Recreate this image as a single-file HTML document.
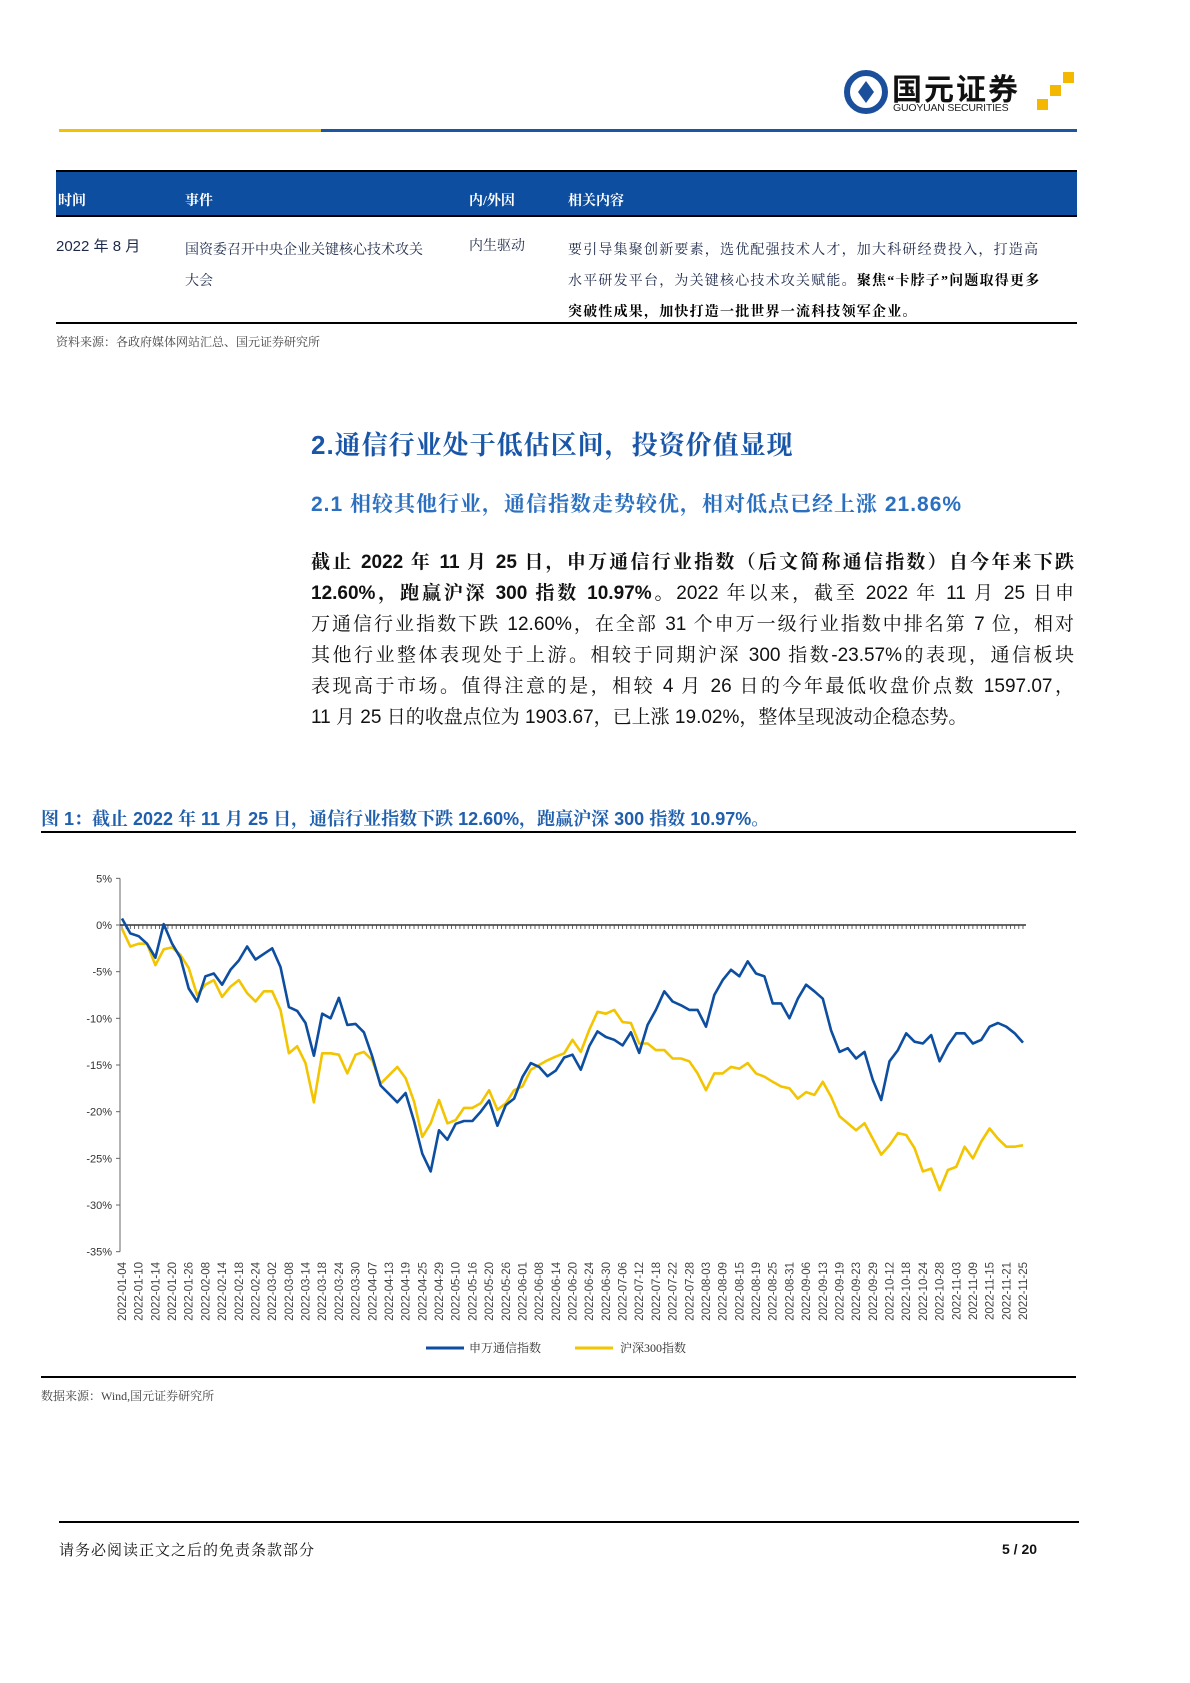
<!DOCTYPE html>
<html><head><meta charset="utf-8">
<style>
body{margin:0;width:1190px;height:1683px;background:#fff;position:relative;font-family:"Liberation Serif","Noto Serif CJK SC",serif;color:#111;overflow:hidden}
.a{position:absolute;white-space:nowrap}
.s{font-family:"Liberation Sans","Noto Sans CJK SC",sans-serif}
.tb{font-size:14px;color:#1e2a4a}
.pl{position:absolute;left:311px;width:763px;font-family:"Liberation Sans","Noto Serif CJK SC",serif;font-size:19px;white-space:nowrap;text-align:justify;text-align-last:justify;color:#111}
</style></head><body>
<div class="a" style="left:843px;top:68px;width:240px;height:48px">
 <svg width="240" height="48"><circle cx="23" cy="24" r="19" fill="none" stroke="#1b4f9c" stroke-width="6"/><path d="M23 13 L31 24 L23 35 L15 24Z" fill="#1b4f9c"/><rect x="220" y="4" width="11" height="11" fill="#f5b800"/><rect x="207" y="17" width="11" height="11" fill="#f5b800"/><rect x="194" y="31" width="11" height="11" fill="#f5b800"/></svg>
 <div class="a s" style="left:49px;top:-3px;font-size:30px;font-weight:bold;color:#111;letter-spacing:2px">国元证券</div>
 <div class="a s" style="left:50px;top:34px;font-size:10.5px;color:#222;letter-spacing:-0.2px">GUOYUAN SECURITIES</div>
</div>
<div class="a" style="left:59px;top:129px;width:262px;height:3px;background:#f2c200"></div>
<div class="a" style="left:321px;top:129px;width:756px;height:3px;background:#1b56a3"></div>

<div class="a" style="left:56px;top:170px;width:1021px;height:2px;background:#000"></div>
<div class="a" style="left:56px;top:172px;width:1021px;height:43px;background:#0d4ea0;border-bottom:2px solid #000"></div>
<div class="a tb" style="left:58px;top:190px;color:#fff;font-weight:bold">时间</div>
<div class="a tb" style="left:185px;top:190px;color:#fff;font-weight:bold">事件</div>
<div class="a tb" style="left:469px;top:190px;color:#fff;font-weight:bold">内/外因</div>
<div class="a tb" style="left:568px;top:190px;color:#fff;font-weight:bold">相关内容</div>
<div class="a tb s" style="left:56px;top:235px;font-size:15px">2022 年 8 月</div>
<div class="a tb" style="left:185px;top:235px;line-height:31px">国资委召开中央企业关键核心技术攻关<br>大会</div>
<div class="a tb" style="left:469px;top:235px">内生驱动</div>
<div class="a tb" style="left:568px;top:235px;line-height:31px;letter-spacing:1.2px">要引导集聚创新要素，选优配强技术人才，加大科研经费投入，打造高<br>水平研发平台，为关键核心技术攻关赋能。<b style="color:#000">聚焦“卡脖子”问题取得更多</b><br><b style="color:#000">突破性成果，加快打造一批世界一流科技领军企业。</b></div>
<div class="a" style="left:56px;top:322px;width:1021px;height:2px;background:#000"></div>
<div class="a" style="left:56px;top:333px;font-size:12px;color:#444">资料来源：各政府媒体网站汇总、国元证券研究所</div>

<div class="a" style="left:311px;top:425px;font-size:26px;font-weight:bold;color:#1a56a8;font-family:'Liberation Sans','Noto Serif CJK SC',serif;letter-spacing:1px">2.通信行业处于低估区间，投资价值显现</div>
<div class="a" style="left:311px;top:488px;font-size:21px;font-weight:bold;color:#2a6fc0;font-family:'Liberation Sans','Noto Serif CJK SC',serif;letter-spacing:1px">2.1 相较其他行业，通信指数走势较优，相对低点已经上涨 21.86%</div>
<div>
<div class="pl" style="top:547px;font-weight:bold">截止 2022 年 11 月 25 日，申万通信行业指数（后文简称通信指数）自今年来下跌</div>
<div class="pl" style="top:578px"><b>12.60%，跑赢沪深 300 指数 10.97%。</b>2022 年以来，截至 2022 年 11 月 25 日申</div>
<div class="pl" style="top:609px">万通信行业指数下跌 12.60%，在全部 31 个申万一级行业指数中排名第 7 位，相对</div>
<div class="pl" style="top:640px">其他行业整体表现处于上游。相较于同期沪深 300 指数-23.57%的表现，通信板块</div>
<div class="pl" style="top:671px">表现高于市场。值得注意的是，相较 4 月 26 日的今年最低收盘价点数 1597.07，</div>
<div class="pl" style="top:702px;text-align-last:left;width:auto">11 月 25 日的收盘点位为 1903.67，已上涨 19.02%，整体呈现波动企稳态势。</div>
</div>

<div class="a" style="left:41px;top:805px;font-size:18px;font-weight:bold;color:#1f5fad;font-family:'Liberation Sans','Noto Serif CJK SC',serif">图 1：截止 2022 年 11 月 25 日，通信行业指数下跌 12.60%，跑赢沪深 300 指数 10.97%。</div>
<div class="a" style="left:41px;top:831px;width:1035px;height:2px;background:#000"></div>

<svg class="a" id="chart" style="left:0;top:860px" width="1190" height="520"></svg>

<div class="a" style="left:41px;top:1376px;width:1035px;height:2px;background:#000"></div>
<div class="a" style="left:41px;top:1387px;font-size:12px;color:#444">数据来源：Wind,国元证券研究所</div>

<div class="a" style="left:59px;top:1521px;width:1020px;height:2px;background:#000"></div>
<div class="a" style="left:59px;top:1539px;font-size:15px;letter-spacing:1px">请务必阅读正文之后的免责条款部分</div>
<div class="a s" style="left:1002px;top:1541px;font-size:14px;font-weight:bold">5 / 20</div>

<script>
const dates=["2022-01-04","2022-01-10","2022-01-14","2022-01-20","2022-01-26","2022-02-08","2022-02-14","2022-02-18","2022-02-24","2022-03-02","2022-03-08","2022-03-14","2022-03-18","2022-03-24","2022-03-30","2022-04-07","2022-04-13","2022-04-19","2022-04-25","2022-04-29","2022-05-10","2022-05-16","2022-05-20","2022-05-26","2022-06-01","2022-06-08","2022-06-14","2022-06-20","2022-06-24","2022-06-30","2022-07-06","2022-07-12","2022-07-18","2022-07-22","2022-07-28","2022-08-03","2022-08-09","2022-08-15","2022-08-19","2022-08-25","2022-08-31","2022-09-06","2022-09-13","2022-09-19","2022-09-23","2022-09-29","2022-10-12","2022-10-18","2022-10-24","2022-10-28","2022-11-03","2022-11-09","2022-11-15","2022-11-21","2022-11-25"];
const yTicks=[5,0,-5,-10,-15,-20,-25,-30,-35];
const telecom=[0.7,-0.9,-1.2,-2.0,-3.5,0.1,-2.0,-3.5,-6.8,-8.2,-5.5,-5.2,-6.4,-4.8,-3.8,-2.3,-3.7,-3.1,-2.5,-4.5,-8.8,-9.2,-10.5,-14.0,-9.5,-10.0,-7.8,-10.7,-10.6,-11.5,-14.1,-17.2,-18.1,-19.0,-18.0,-21.0,-24.5,-26.4,-22.0,-23.0,-21.3,-21.0,-21.0,-20.0,-18.8,-21.5,-19.3,-18.6,-16.3,-14.8,-15.2,-16.2,-15.6,-14.2,-13.9,-15.5,-13.0,-11.4,-12.0,-12.3,-12.9,-11.5,-13.7,-10.7,-9.1,-7.1,-8.2,-8.6,-9.1,-9.1,-10.9,-7.5,-5.9,-4.8,-5.5,-3.9,-5.2,-5.5,-8.4,-8.4,-10.0,-7.9,-6.4,-7.1,-7.9,-11.3,-13.6,-13.2,-14.3,-13.6,-16.6,-18.75,-14.6,-13.4,-11.6,-12.5,-12.7,-11.8,-14.6,-12.9,-11.6,-11.6,-12.7,-12.3,-10.9,-10.5,-10.9,-11.6,-12.6];
const hs300=[-0.4,-2.3,-2.0,-2.0,-4.3,-2.6,-2.4,-3.2,-4.6,-7.5,-6.4,-5.9,-7.7,-6.6,-5.9,-7.3,-8.2,-7.1,-7.1,-9.1,-13.75,-13.0,-14.8,-19.0,-13.75,-13.75,-13.9,-15.9,-13.9,-13.6,-14.5,-17.0,-16.1,-15.2,-16.4,-18.9,-22.7,-21.25,-18.75,-21.25,-20.9,-19.6,-19.6,-19.1,-17.7,-19.8,-19.1,-17.7,-17.3,-15.5,-15.0,-14.5,-14.1,-13.75,-12.3,-13.6,-11.25,-9.3,-9.5,-9.1,-10.4,-10.5,-12.7,-12.7,-13.4,-13.4,-14.3,-14.3,-14.6,-15.9,-17.7,-15.9,-15.9,-15.2,-15.4,-14.8,-15.9,-16.25,-16.8,-17.3,-17.5,-18.6,-17.9,-18.2,-16.8,-18.4,-20.5,-21.25,-22.0,-21.25,-22.9,-24.6,-23.6,-22.3,-22.5,-23.9,-26.4,-26.1,-28.4,-26.25,-25.9,-23.75,-25.0,-23.2,-21.8,-22.9,-23.75,-23.75,-23.6];
const series=[{name:"申万通信指数",vals:telecom,color:"#0d4ea0"},{name:"沪深300指数",vals:hs300,color:"#f2c500"}];

const svg=document.getElementById('chart');
const NS="http://www.w3.org/2000/svg";
const OY=860, x0=122, x1=1023, axX=120;
function yS(v){return 925-OY-(v*46.67/5);}
function xS(i){return x0+i*(x1-x0)/(dates.length-1);}
function el(t,a){const e=document.createElementNS(NS,t);for(const k in a)e.setAttribute(k,a[k]);svg.appendChild(e);return e;}
const ya=el('line',{x1:axX,y1:yS(5),x2:axX,y2:yS(-35),stroke:'#666','stroke-width':1});


yTicks.forEach(t=>{
 const tk=el('line',{x1:axX-4,y1:yS(t),x2:axX,y2:yS(t),stroke:'#666'});
 
 
 const tx=el('text',{x:axX-8,y:yS(t)+4,'text-anchor':'end','font-size':11,fill:'#333','font-family':'Liberation Sans, sans-serif'});
 tx.textContent=t+'%';
 
 
});
const za=el('line',{x1:axX,y1:yS(0),x2:1026,y2:yS(0),stroke:'#333','stroke-width':1.5});


const nDays=(dates.length-1)*4;
let d='';
for(let k=0;k<=nDays;k++){const x=x0+k*(x1-x0)/nDays;d+=`M${x.toFixed(1)} ${yS(0)}v4`;}
const tp=el('path',{d:d,stroke:'#444','stroke-width':0.8,fill:'none'});


dates.forEach((s,i)=>{
 const x=xS(i), y=1262-OY;
 const tx=el('text',{transform:`translate(${x+4},${y}) rotate(-90)`,'text-anchor':'end','font-size':11.5,fill:'#444','font-family':'Liberation Sans, sans-serif'});
 tx.textContent=s;
 
 
});
series.slice().reverse().forEach(se=>{
 const n=se.vals.length;
 const pts=se.vals.map((v,j)=>`${(x0+j*(x1-x0)/(n-1)).toFixed(1)},${yS(v).toFixed(1)}`).join(' ');
 const pl=el('polyline',{points:pts,fill:'none',stroke:se.color,'stroke-width':2.6,'stroke-linejoin':'round'});
 
 
});
[[426,469,0],[575,620,1]].forEach(([lx,tx,k])=>{
 const ln=el('line',{x1:lx,y1:1348-OY,x2:lx+38,y2:1348-OY,stroke:series[k].color,'stroke-width':3});
 
 
 const t=el('text',{x:tx,y:1352-OY,'font-size':12,fill:'#333','font-family':'Liberation Serif, Noto Serif CJK SC, serif'});
 t.textContent=series[k].name;
 
 
});
</script>
</body></html>
